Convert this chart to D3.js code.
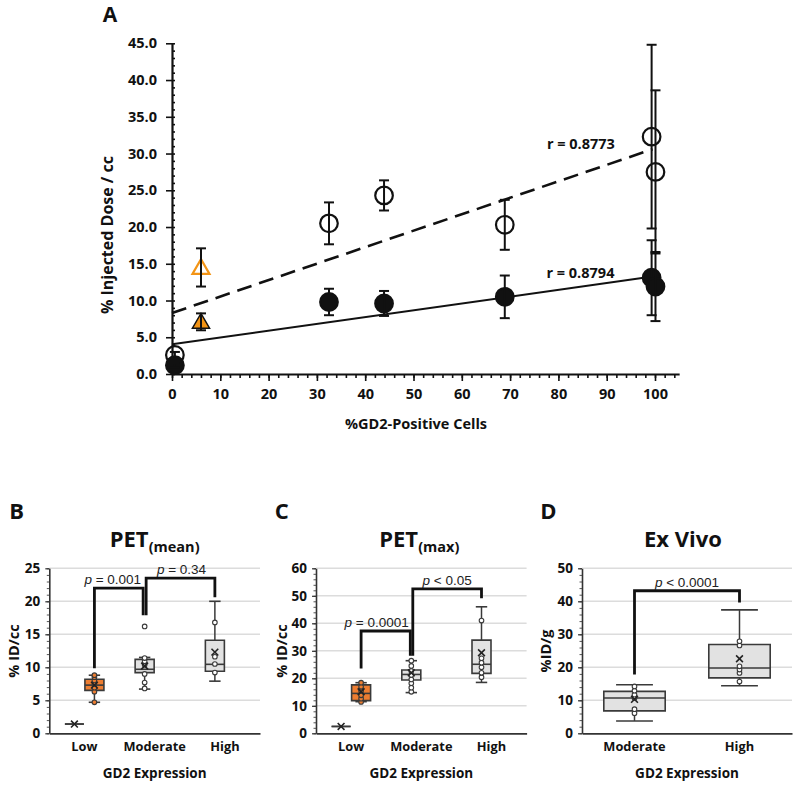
<!DOCTYPE html>
<html><head><meta charset="utf-8">
<script src="https://cdn.jsdelivr.net/npm/d3@7"></script>
<style>body{margin:0;background:#fff}svg{display:block}</style>
</head><body><svg id="c" width="800" height="792"></svg>
<script>
// ================= DATA =================
// Panel A: %ID/cc vs %GD2-positive cells
const gd2Positive = [0.6, 6.0, 32.5, 43.9, 68.9, 99.3, 100.1];
const markerShape = ["circle", "triangle", "circle", "circle", "circle", "circle", "circle"];
const openIdcc   = [2.6, 14.5, 20.5, 24.3, 20.3, 32.3, 27.5];
const openErr    = [0.4, 2.6, 2.85, 2.05, 3.4, 12.5, 11.1];
const filledIdcc = [1.2, 7.1, 9.8, 9.6, 10.5, 13.1, 11.9];
const filledErr  = [0.3, 1.15, 1.8, 1.7, 2.9, 5.1, 4.7];
const fitOpen    = [8.3, 0.224];    // intercept, slope (dashed)
const fitFilled  = [4.05, 0.0925];  // intercept, slope (solid)
const fitRange   = [0, 99.5];
const rLabels    = ["r = 0.8773", "r = 0.8794"];
const rLabelAt   = [[91.7, 31.3], [91.6, 13.8]];
const xTicksA    = [0, 10, 20, 30, 40, 50, 60, 70, 80, 90, 100];
const yTicksA    = [0, 5, 10, 15, 20, 25, 30, 35, 40, 45];

// Panels B-D: box plots (lo, q1, median, q3, hi, mean, points, outliers)
const petMeanCats = ["Low", "Moderate", "High"];
const petMeanBoxes = [
  {cat: "Low", s: "gray", lo: 1.4, q1: 1.4, med: 1.4, q3: 1.4, hi: 1.4, mean: 1.4, pts: [], out: []},
  {cat: "Low", s: "orange", lo: 4.7, q1: 6.5, med: 7.3, q3: 8.2, hi: 8.8, mean: 7.3, pts: [4.7, 6.3, 6.9, 7.5, 8.0, 8.5, 8.8], out: []},
  {cat: "Moderate", s: "gray", lo: 6.7, q1: 9.2, med: 9.7, q3: 11.2, hi: 11.5, mean: 10.2, pts: [6.8, 7.7, 9.0, 10.4, 10.9, 11.4], out: [16.2]},
  {cat: "High", s: "gray", lo: 7.9, q1: 9.4, med: 10.45, q3: 14.1, hi: 20.0, mean: 12.3, pts: [9.2, 10.5, 11.6, 16.8], out: []}
];
const petMeanBrackets = [
  {from: ["Low", "orange"], to: ["Moderate", "gray"], yFrom: 9.85, yTop: 22.0, yTo: 17.9, op: " = ", val: "0.001"},
  {from: ["Moderate", "gray"], to: ["High", "gray"], yFrom: 17.9, yTop: 23.5, yTo: 20.6, op: " = ", val: "0.34"}
];
const petMeanTicks = [0, 5, 10, 15, 20, 25];

const petMaxCats = ["Low", "Moderate", "High"];
const petMaxBoxes = [
  {cat: "Low", s: "gray", lo: 2.5, q1: 2.5, med: 2.5, q3: 2.5, hi: 2.5, mean: 2.5, pts: [], out: []},
  {cat: "Low", s: "orange", lo: 11.5, q1: 11.9, med: 14.5, q3: 17.6, hi: 18.4, mean: 15.1, pts: [11.4, 12.6, 13.8, 15.4, 16.9, 18.4], out: []},
  {cat: "Moderate", s: "gray", lo: 14.8, q1: 19.4, med: 21.4, q3: 23.0, hi: 26.4, mean: 22.0, pts: [15.1, 16.6, 18.2, 19.6, 21.2, 22.7, 24.5, 26.4], out: []},
  {cat: "High", s: "gray", lo: 18.5, q1: 21.8, med: 25.1, q3: 33.9, hi: 46.0, mean: 29.3, pts: [20.4, 22.0, 24.0, 25.7, 27.3, 41.0], out: []}
];
const petMaxBrackets = [
  {from: ["Low", "orange"], to: ["Moderate", "gray"], yFrom: 23.6, yTop: 37.2, yTo: 28.2, op: " = ", val: "0.0001"},
  {from: ["Moderate", "gray"], to: ["High", "gray"], yFrom: 28.2, yTop: 52.5, yTo: 49.1, op: " < ", val: "0.05"}
];
const petMaxTicks = [0, 10, 20, 30, 40, 50, 60];

const exVivoCats = ["Moderate", "High"];
const exVivoBoxes = [
  {cat: "Moderate", s: "gray", lo: 3.75, q1: 6.8, med: 10.7, q3: 12.7, hi: 14.7, mean: 10.3, pts: [6.1, 7.3, 10.7, 11.7, 12.9, 14.2], out: []},
  {cat: "High", s: "gray", lo: 14.4, q1: 16.8, med: 19.8, q3: 26.9, hi: 37.4, mean: 22.6, pts: [15.7, 18.3, 19.3, 20.3, 26.6, 27.9], out: []}
];
const exVivoBrackets = [
  {from: ["Moderate", "gray"], to: ["High", "gray"], yFrom: 17.8, yTop: 43.2, yTo: 39.6, op: " < ", val: "0.0001"}
];
const exVivoTicks = [0, 10, 20, 30, 40, 50];

// ================= DRAWING =================
const FONT = '"Open Sans", sans-serif';
const ARIAL = '"Liberation Sans", Arial, sans-serif';
const INK = "#111";
const svg = d3.select("#c");
svg.append("rect").attr("width", 800).attr("height", 792).attr("fill", "#fff");

// ---------- Panel A ----------
const xA = d3.scaleLinear().domain([0, 105]).range([172, 172 + 105 * 4.83]);
const yA = d3.scaleLinear().domain([0, 45]).range([374, 43.3]);
const gA = svg.append("g");

function styleAxis(g, w) {
  g.selectAll("path.domain").attr("stroke", INK).attr("stroke-width", w);
  g.selectAll(".tick line").attr("stroke", INK).attr("stroke-width", 1.6);
}
const xMin = gA.append("g").attr("transform", `translate(0,${yA(0)})`)
  .call(d3.axisBottom(xA).tickValues(d3.range(0, 105.1, 2)).tickSize(4).tickFormat(""));
xMin.select("path.domain").remove();
styleAxis(xMin, 2);
const xMaj = gA.append("g").attr("transform", `translate(0,${yA(0)})`)
  .call(d3.axisBottom(xA).tickValues(xTicksA).tickSizeInner(7).tickSizeOuter(0).tickPadding(8));
styleAxis(xMaj, 2.2);
xMaj.selectAll("text").attr("font-family", FONT).attr("font-weight", 700).attr("font-size", 14.5).attr("fill", INK);

const yMin = gA.append("g").attr("transform", `translate(${xA(0)},0)`)
  .call(d3.axisRight(yA).tickValues(d3.range(0, 45.01, 1)).tickSize(3).tickFormat(""));
yMin.select("path.domain").remove();
styleAxis(yMin, 2);
const yMaj = gA.append("g").attr("transform", `translate(${xA(0)},0)`)
  .call(d3.axisLeft(yA).tickValues(yTicksA).tickSizeInner(6).tickSizeOuter(0).tickPadding(9).tickFormat(d3.format(".1f")));
styleAxis(yMaj, 2.2);
yMaj.selectAll("text").attr("font-family", FONT).attr("font-weight", 700).attr("font-size", 14.5).attr("fill", INK);

gA.append("text").attr("transform", "translate(107,235) rotate(-90)").attr("text-anchor", "middle")
  .attr("dy", "0.35em").attr("font-family", FONT).attr("font-weight", 700).attr("font-size", 16).attr("fill", INK)
  .text("% Injected Dose / cc");
gA.append("text").attr("x", 416).attr("y", 424).attr("text-anchor", "middle").attr("dy", "0.35em")
  .attr("font-family", FONT).attr("font-weight", 700).attr("font-size", 14.5).attr("fill", INK)
  .text("%GD2-Positive Cells");
gA.append("text").attr("x", 110).attr("y", 15).attr("text-anchor", "middle").attr("dy", "0.35em")
  .attr("font-family", FONT).attr("font-weight", 700).attr("font-size", 21).attr("fill", INK).text("A");

const fitLine = (f) => d3.line()(fitRange.map(x => [xA(x), yA(f[0] + f[1] * x)]));
gA.append("path").attr("d", fitLine(fitOpen)).attr("stroke", INK).attr("stroke-width", 2.6)
  .attr("stroke-dasharray", "15,8").attr("fill", "none");
gA.append("path").attr("d", fitLine(fitFilled)).attr("stroke", INK).attr("stroke-width", 2)
  .attr("fill", "none");

const ORANGE_A = "#F39415";
function drawSeries(vals, errs, filled) {
  const g = gA.append("g");
  gd2Positive.forEach((x, i) => {
    const cx = xA(x), cy = yA(vals[i]);
    if (markerShape[i] === "circle") {
      g.append("circle").attr("cx", cx).attr("cy", cy).attr("r", 8.8)
        .attr("fill", filled ? INK : "none").attr("stroke", INK).attr("stroke-width", 2.2);
    } else {
      g.append("path").attr("transform", `translate(${cx},${cy + 1.5})`)
        .attr("d", d3.symbol(d3.symbolTriangle, filled ? 130 : 125)())
        .attr("fill", filled ? ORANGE_A : "none").attr("stroke", filled ? INK : ORANGE_A)
        .attr("stroke-width", filled ? 1.4 : 2.2);
    }
    const y1 = yA(vals[i] + errs[i]), y2 = yA(vals[i] - errs[i]);
    g.append("line").attr("x1", cx).attr("x2", cx).attr("y1", y1).attr("y2", y2).attr("stroke", INK).attr("stroke-width", 2);
    [y1, y2].forEach(yy => g.append("line").attr("x1", cx - 5).attr("x2", cx + 5).attr("y1", yy).attr("y2", yy)
      .attr("stroke", INK).attr("stroke-width", 2));
  });
}
drawSeries(openIdcc, openErr, false);
drawSeries(filledIdcc, filledErr, true);

rLabels.forEach((t, i) => {
  gA.append("text").attr("x", xA(rLabelAt[i][0])).attr("y", yA(rLabelAt[i][1])).attr("dy", "0.35em")
    .attr("text-anchor", "end").attr("font-family", FONT).attr("font-weight", 700).attr("font-size", 14.5)
    .attr("fill", INK).text(t);
});

// ---------- Box panels ----------
const GRAY_FILL = "#e2e2e2", ORANGE_FILL = "#ED7D31", BOX_STROKE = "#3a3a3a";
function boxPanel(o) {
  const g = svg.append("g");
  const y = d3.scaleLinear().domain([0, o.max]).range([733.3, 568.3]);
  const x = d3.scaleBand().domain(o.cats).range([o.x0, o.x1]);
  const sub = d3.scaleBand().domain(o.series).range([0, x.bandwidth()])
    .paddingInner(o.series.length > 1 ? 0.05 : 0).paddingOuter(o.series.length > 1 ? 0.78 : 0.355);
  const cx = (c, s) => x(c) + sub(s) + sub.bandwidth() / 2;
  const bw = sub.bandwidth();

  g.selectAll("line.grid").data(o.ticks.filter(t => t > 0)).join("line")
    .attr("x1", o.x0).attr("x2", o.x1).attr("y1", d => y(d)).attr("y2", d => y(d))
    .attr("stroke", "#dcdcdc").attr("stroke-width", 1.4);
  const yMinor = g.append("g").attr("transform", `translate(${o.x0},0)`)
    .call(d3.axisLeft(y).tickValues(d3.range(0, o.max + 0.01, o.minor)).tickSize(2.5).tickFormat(""));
  yMinor.select("path.domain").remove();
  yMinor.selectAll(".tick line").attr("stroke", "#555").attr("stroke-width", 1);
  const yAx = g.append("g").attr("transform", `translate(${o.x0},0)`)
    .call(d3.axisLeft(y).tickValues(o.ticks).tickSizeInner(4).tickSizeOuter(0).tickPadding(5));
  yAx.select("path.domain").attr("stroke", "#333").attr("stroke-width", 1.6);
  yAx.selectAll(".tick line").attr("stroke", "#333").attr("stroke-width", 1.2);
  yAx.selectAll("text").attr("font-family", FONT).attr("font-weight", 700).attr("font-size", 13.5).attr("fill", INK);
  const xAx = g.append("g").attr("transform", `translate(0,${y(0)})`)
    .call(d3.axisBottom(x).tickSize(0).tickPadding(9));
  xAx.select("path.domain").attr("stroke", "#333").attr("stroke-width", 1.8);
  xAx.selectAll("text").attr("font-family", FONT).attr("font-weight", 700).attr("font-size", 12.8).attr("fill", INK);
  const mid = (o.x0 + o.x1) / 2;
  g.append("text").attr("x", mid).attr("y", 773.3).attr("dy", "0.35em").attr("text-anchor", "middle")
    .attr("font-family", FONT).attr("font-weight", 700).attr("font-size", 13.5).attr("fill", INK).text("GD2 Expression");
  g.append("text").attr("transform", `translate(${o.yTitleX},651) rotate(-90)`).attr("dy", "0.35em").attr("text-anchor", "middle")
    .attr("font-family", FONT).attr("font-weight", 700).attr("font-size", 14.5).attr("fill", INK).text(o.yTitle);
  g.append("text").attr("x", o.letterX).attr("y", 511.7).attr("dy", "0.35em").attr("text-anchor", "middle")
    .attr("font-family", FONT).attr("font-weight", 700).attr("font-size", 22).attr("fill", INK).text(o.letter);
  const tt = g.append("text").attr("x", mid + o.titleDx).attr("y", 546.7).attr("text-anchor", "middle")
    .attr("font-family", FONT).attr("font-weight", 700).attr("fill", INK);
  tt.append("tspan").attr("font-size", 22).text(o.title);
  if (o.sub) tt.append("tspan").attr("font-size", 14.5).attr("dy", 5).text(o.sub);

  o.boxes.forEach(b => {
    const c = cx(b.cat, b.s);
    const fill = b.s === "orange" ? ORANGE_FILL : GRAY_FILL;
    const cap = bw * 0.3;
    const bg = g.append("g");
    [[b.lo, b.q1], [b.q3, b.hi]].forEach(([a, bb]) => {
      if (a !== bb) {
        bg.append("line").attr("x1", c).attr("x2", c).attr("y1", y(a)).attr("y2", y(bb)).attr("stroke", BOX_STROKE).attr("stroke-width", 1.5);
      }
    });
    if (b.lo !== b.q1) bg.append("line").attr("x1", c - cap).attr("x2", c + cap).attr("y1", y(b.lo)).attr("y2", y(b.lo)).attr("stroke", BOX_STROKE).attr("stroke-width", 1.6);
    if (b.hi !== b.q3) bg.append("line").attr("x1", c - cap).attr("x2", c + cap).attr("y1", y(b.hi)).attr("y2", y(b.hi)).attr("stroke", BOX_STROKE).attr("stroke-width", 1.6);
    const p = d3.path();
    p.moveTo(c - bw / 2, y(b.q3)); p.lineTo(c + bw / 2, y(b.q3)); p.lineTo(c + bw / 2, y(b.q1)); p.lineTo(c - bw / 2, y(b.q1)); p.closePath();
    bg.append("path").attr("d", p.toString()).attr("fill", fill).attr("stroke", BOX_STROKE).attr("stroke-width", 1.6);
    bg.append("line").attr("x1", c - bw / 2).attr("x2", c + bw / 2).attr("y1", y(b.med)).attr("y2", y(b.med)).attr("stroke", BOX_STROKE).attr("stroke-width", 1.6);
    b.pts.concat(b.out).forEach(v => {
      bg.append("circle").attr("cx", c).attr("cy", y(v)).attr("r", 2.3)
        .attr("fill", b.s === "orange" ? ORANGE_FILL : "#fff").attr("stroke", BOX_STROKE).attr("stroke-width", 1.1);
    });
    const m = y(b.mean), k = 3.4;
    bg.append("path").attr("d", `M${c - k},${m - k}L${c + k},${m + k}M${c - k},${m + k}L${c + k},${m - k}`)
      .attr("stroke", "#222").attr("stroke-width", 1.6);
  });

  o.brackets.forEach((br, i) => {
    const nud = o.nudge[i];
    const xl = cx(br.from[0], br.from[1]) + nud[0], xr = cx(br.to[0], br.to[1]) + nud[1];
    g.append("path").attr("d", d3.line()([[xl, y(br.yFrom)], [xl, y(br.yTop)], [xr, y(br.yTop)], [xr, y(br.yTo)]]))
      .attr("fill", "none").attr("stroke", INK).attr("stroke-width", 2.8).attr("stroke-linejoin", "miter");
    const t = g.append("text").attr("x", (xl + xr) / 2 + nud[2]).attr("y", y(br.yTop) - 4).attr("text-anchor", "middle")
      .attr("font-family", ARIAL).attr("font-size", 13.5).attr("fill", "#222");
    t.append("tspan").attr("font-style", "italic").text("p");
    t.append("tspan").text(br.op + br.val);
  });
}

boxPanel({x0: 49.3, x1: 260, max: 25, ticks: petMeanTicks, minor: 1, cats: petMeanCats, series: ["gray", "orange"],
  boxes: petMeanBoxes, brackets: petMeanBrackets, nudge: [[0, -1.5, -6], [1.5, 0, 1]],
  title: "PET", sub: "(mean)", titleDx: 0, letter: "B", letterX: 16.7, yTitle: "% ID/cc", yTitleX: 14});
boxPanel({x0: 316, x1: 526.6, max: 60, ticks: petMaxTicks, minor: 2, cats: petMaxCats, series: ["gray", "orange"],
  boxes: petMaxBoxes, brackets: petMaxBrackets, nudge: [[0, -1, -9], [1.5, 0, 0]],
  title: "PET", sub: "(max)", titleDx: -2, letter: "C", letterX: 281.7, yTitle: "% ID/cc", yTitleX: 281.7});
boxPanel({x0: 582, x1: 792, max: 50, ticks: exVivoTicks, minor: 2, cats: exVivoCats, series: ["gray"],
  boxes: exVivoBoxes, brackets: exVivoBrackets, nudge: [[0, 0, 0]],
  title: "Ex Vivo", sub: null, titleDx: -4, letter: "D", letterX: 548.3, yTitle: "%ID/g", yTitleX: 546});
</script></body></html>
